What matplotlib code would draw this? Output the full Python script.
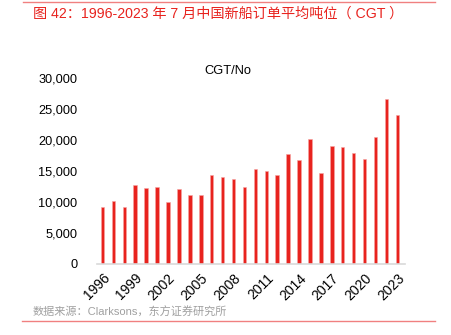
import matplotlib
matplotlib.use("Agg")
import matplotlib.pyplot as plt
import matplotlib.ticker as ticker

plt.rcParams["font.family"] = ["Liberation Sans", "Noto Sans CJK SC", "DejaVu Sans"]

years = list(range(1996, 2024))
avg_cgt = [9200, 10200, 9200, 12700, 12200, 12400, 9950, 12100, 11200, 11200,
           14300, 14100, 13700, 12400, 15400, 15000, 14300, 17700, 16700, 20200,
           14600, 19100, 18800, 17900, 17000, 20500, 26600, 24000]
tick_years = list(range(1996, 2024, 3))

RED = "#e8231e"

fig = plt.figure(figsize=(4.51, 3.35), dpi=100)
ax = fig.add_axes([97 / 451, (335 - 264) / 335, 308 / 451, 186 / 335])

ax.bar(years, avg_cgt, width=0.32, color=RED, edgecolor="#f5a5a2", linewidth=0.4)

ax.set_xlim(1995.5, 2023.7)
ax.set_ylim(0, 30000)
ax.yaxis.set_major_locator(ticker.MultipleLocator(5000))
ax.yaxis.set_major_formatter(ticker.FuncFormatter(lambda x, _: f"{int(x):,}"))
ax.set_xticks(tick_years)
ax.set_xticklabels([str(y) for y in tick_years], rotation=45, ha="right",
                   rotation_mode="anchor", fontsize=10)
ax.tick_params(axis="y", labelsize=9.2, length=0, pad=14)
ax.tick_params(axis="x", length=0, pad=5)

for side in ["top", "right", "left"]:
    ax.spines[side].set_visible(False)
ax.spines["bottom"].set_color("#d9d9d9")
ax.spines["bottom"].set_linewidth(1.2)

ax.text(0.425, 1.04, "CGT/No", transform=ax.transAxes, fontsize=9.3,
        ha="center", va="center")

# title, source and frame lines
fig.text(33 / 451, 1 - 14 / 335, "图 42：1996-2023 年 7 月中国新船订单平均吨位（ CGT ）",
         color=RED, fontsize=10.2, ha="left", va="center")
fig.text(33 / 451, 1 - 312 / 335, "数据来源：Clarksons，东方证券研究所",
         color="#a0a0a0", fontsize=8, ha="left", va="center")
fig.add_artist(plt.Line2D([23 / 451, 435 / 451], [1 - 2 / 335, 1 - 2 / 335],
                          color="#f08080", linewidth=1))
fig.add_artist(plt.Line2D([22 / 451, 435 / 451], [1 - 321 / 335, 1 - 321 / 335],
                          color="#f08080", linewidth=1))

fig.savefig("out.png", dpi=100)
